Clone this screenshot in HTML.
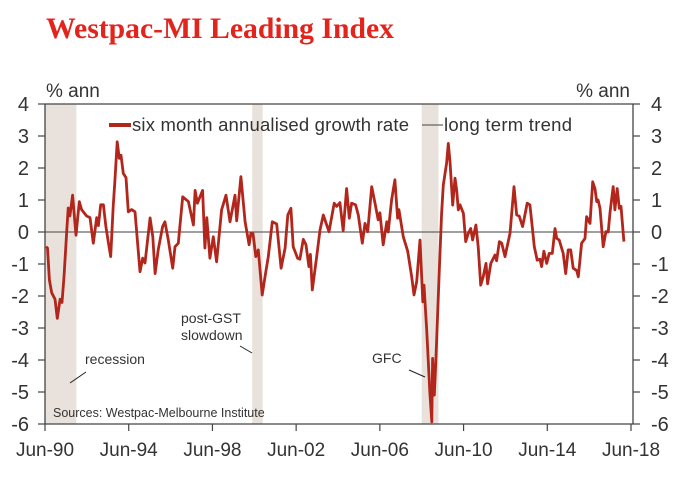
<!DOCTYPE html>
<html><head><meta charset="utf-8"><style>
html,body{margin:0;padding:0;background:#fff;}
#wrap{position:relative;width:698px;height:488px;overflow:hidden;font-family:"Liberation Sans",sans-serif;}
svg text{font-family:"Liberation Sans",sans-serif;fill:#333;}
</style></head><body>
<div id="wrap">
<svg id="chart" width="698" height="488">
<text x="46" y="38" style="font-family:'Liberation Serif',serif;font-weight:bold;font-size:30px;fill:#e3241d" textLength="348" lengthAdjust="spacingAndGlyphs">Westpac-MI Leading Index</text>
</svg>
</div>
<script>
const dates = [1990.55,1990.62,1990.71,1990.82,1990.98,1991.09,1991.22,1991.31,1991.41,1991.54,1991.61,1991.69,1991.82,1991.98,1992.14,1992.25,1992.49,1992.65,1992.81,1992.97,1993.05,1993.16,1993.29,1993.41,1993.52,1993.64,1993.76,1993.84,1993.95,1994.05,1994.13,1994.24,1994.37,1994.48,1994.64,1994.80,1995.04,1995.17,1995.28,1995.52,1995.65,1995.76,1995.91,1996.12,1996.23,1996.39,1996.60,1996.71,1996.87,1997.08,1997.35,1997.59,1997.67,1997.78,1998.03,1998.14,1998.23,1998.38,1998.54,1998.70,1998.94,1999.15,1999.34,1999.58,1999.66,1999.86,2000.06,2000.25,2000.34,2000.44,2000.57,2000.69,2000.88,2001.01,2001.17,2001.36,2001.57,2001.78,2001.97,2002.10,2002.25,2002.36,2002.57,2002.68,2002.84,2002.97,2003.11,2003.18,2003.27,2003.48,2003.64,2003.80,2004.07,2004.32,2004.44,2004.59,2004.75,2004.91,2005.04,2005.15,2005.34,2005.47,2005.66,2005.79,2005.92,2006.11,2006.27,2006.42,2006.50,2006.66,2006.83,2006.90,2007.06,2007.22,2007.35,2007.41,2007.62,2007.83,2008.02,2008.13,2008.26,2008.42,2008.55,2008.61,2008.74,2008.89,2008.98,2009.02,2009.10,2009.18,2009.34,2009.45,2009.53,2009.69,2009.77,2009.85,2009.98,2010.09,2010.17,2010.25,2010.33,2010.49,2010.60,2010.72,2010.84,2010.93,2011.09,2011.20,2011.32,2011.44,2011.57,2011.65,2011.80,2012.00,2012.08,2012.21,2012.32,2012.48,2012.72,2012.91,2013.04,2013.16,2013.32,2013.43,2013.54,2013.67,2013.80,2013.88,2014.02,2014.15,2014.23,2014.34,2014.47,2014.59,2014.74,2014.87,2014.95,2015.07,2015.26,2015.38,2015.50,2015.62,2015.74,2015.90,2015.98,2016.14,2016.30,2016.38,2016.54,2016.67,2016.78,2016.86,2016.93,2017.02,2017.17,2017.30,2017.41,2017.50,2017.65,2017.73,2017.84,2017.94,2018.02,2018.16];
const growth = [-0.46,-0.5,-1.5,-1.9,-2.1,-2.7,-2.1,-2.2,-1.4,0.06,0.75,0.5,1.15,-0.1,0.95,0.7,0.5,0.45,-0.35,0.45,0.2,0.85,0.85,0.17,-0.3,-0.77,0.8,1.6,2.82,2.3,2.4,1.83,1.7,0.63,0.7,0.63,-1.24,-0.82,-0.97,0.44,-0.15,-1.3,-0.56,0.17,0.32,-0.25,-1.13,-0.46,-0.35,1.1,0.95,0.22,1.3,0.9,1.3,-0.5,0.45,-0.82,-0.15,-0.93,0.69,1.15,0.32,1.15,0.35,1.73,0.32,-0.4,-0.04,-0.05,-0.77,-0.56,-1.97,-1.4,-0.77,0.32,0.25,-1.13,-0.5,0.53,0.74,-0.46,-0.82,-0.85,-0.23,-0.4,-1.08,-0.7,-1.81,-0.77,0.06,0.53,0.01,0.9,0.8,0.92,0.04,1.36,0.43,0.9,0.85,0.53,-0.35,0.27,0.01,1.42,0.9,0.38,0.6,-0.4,0.32,0.0,1.0,1.63,0.43,0.7,-0.15,-0.6,-1.4,-1.97,-1.55,-0.25,-2.18,-1.66,-3.06,-5.04,-5.93,-3.95,-5.1,-4.0,-1.19,0.58,1.47,2.15,2.77,2.2,0.84,1.68,1.3,0.69,0.85,0.58,-0.3,-0.05,0.11,-0.25,0.22,-0.46,-1.66,-1.4,-0.98,-1.62,-0.98,-0.72,-0.9,-0.3,-0.35,-0.77,-0.04,1.42,0.53,0.5,0.17,0.53,0.9,0.85,0.06,-0.46,-0.88,-0.85,-1.08,-0.6,-0.98,-0.67,-0.67,0.11,-0.2,-0.25,-0.67,-1.3,-0.56,-0.56,-1.13,-1.2,-1.4,-0.35,-0.2,0.48,0.27,1.57,1.35,0.95,1.0,0.74,-0.46,0.01,0.0,0.63,1.42,0.69,1.36,0.74,0.8,-0.3];
const yTicks = [4,3,2,1,0,-1,-2,-3,-4,-5,-6];
const xTickYears = [1990.5,1994.5,1998.5,2002.5,2006.5,2010.5,2014.5,2018.5];
const xTickLabels = ["Jun-90","Jun-94","Jun-98","Jun-02","Jun-06","Jun-10","Jun-14","Jun-18"];
const bandStarts = [1990.5,2000.4,2008.5];
const bandEnds = [1992.0,2000.9,2009.3];
const bandNames = ["recession-band","post-gst-band","gfc-band"];

const L=45,R=633,T=104,B=424;
const X0=1990.5,X1=2018.5;
const xs = d => L + (d - X0) * (631 - L) / (X1 - X0);
const ys = v => T + (4 - v) * (B - T) / 10;
const svg = document.getElementById('chart');
const NS='http://www.w3.org/2000/svg';
function mk(tag, attrs){const e=document.createElementNS(NS,tag);for(const k in attrs)e.setAttribute(k,attrs[k]);svg.appendChild(e);return e;}

bandStarts.forEach((s,i)=>{
  const r=mk('rect',{x:xs(s),y:T,width:xs(bandEnds[i])-xs(s),height:B-T,fill:'#e9e2dc'});
  
  
});
const zl=mk('line',{x1:L,x2:R,y1:ys(0),y2:ys(0),stroke:'#666',"stroke-width":1.2});



const frame=mk('path',{d:`M${L},${B}V${T}H${R}V${B}H${L}`,fill:'none',stroke:'#444',"stroke-width":1.3});



yTicks.forEach(v=>{
  const y=ys(v);
  mk('line',{x1:L-7,x2:L,y1:y,y2:y,stroke:'#444',"stroke-width":1.2});
  mk('line',{x1:R,x2:R+7,y1:y,y2:y,stroke:'#444',"stroke-width":1.2});
  const t1=mk('text',{x:29,y:y+7,"text-anchor":"end","font-size":"20"});t1.textContent=v;
  
  
  const t2=mk('text',{x:651,y:y+7,"text-anchor":"start","font-size":"20"});t2.textContent=v;
  
  
});
xTickYears.forEach((d,i)=>{
  const x=xs(d);
  mk('line',{x1:x,x2:x,y1:B,y2:B+7,stroke:'#444',"stroke-width":1.2});
  const t=mk('text',{x:x,y:456,"text-anchor":"middle","font-size":"19"});t.textContent=xTickLabels[i];
  
  
});

const pts=dates.map((d,i)=>xs(d).toFixed(1)+','+ys(growth[i]).toFixed(1)).join(' ');
const line=mk('polyline',{points:pts,fill:'none',stroke:'#b3261b',"stroke-width":2.8,"stroke-linejoin":"round"});



function txt(x,y,s,size,name,anchor){const t=mk('text',{x:x,y:y,"font-size":size,"text-anchor":anchor||'start'});t.textContent=s;return t;}
txt(46,97,'% ann','19','y-axis-unit-left');
txt(630,97,'% ann','19','y-axis-unit-right','end');
const lg1=mk('line',{x1:109,x2:131,y1:125,y2:125,stroke:'#b3261b',"stroke-width":4});


const lt1=txt(132,131,'six month annualised growth rate','18.5','legend-label-growth');
lt1.setAttribute('textLength','277');
const lg2=mk('line',{x1:422,x2:443,y1:125,y2:125,stroke:'#666',"stroke-width":1.2});


const lt2=txt(444,131,'long term trend','18.5','legend-label-trend');
lt2.setAttribute('textLength','128');
txt(85,364,'recession','14','recession-annotation');
txt(181,323,'post-GST','14','post-gst-annotation');
txt(181,340,'slowdown','14','slowdown-annotation');
txt(372,363,'GFC','14','gfc-annotation');
txt(53,417,'Sources: Westpac-Melbourne Institute','12.5','source-note');
[[86,372,70,383],[240,346,252,353],[409,370,425,377]].forEach(c=>{
  const l=mk('line',{x1:c[0],y1:c[1],x2:c[2],y2:c[3],stroke:'#222',"stroke-width":1});
  
  
});
</script>
</body></html>
